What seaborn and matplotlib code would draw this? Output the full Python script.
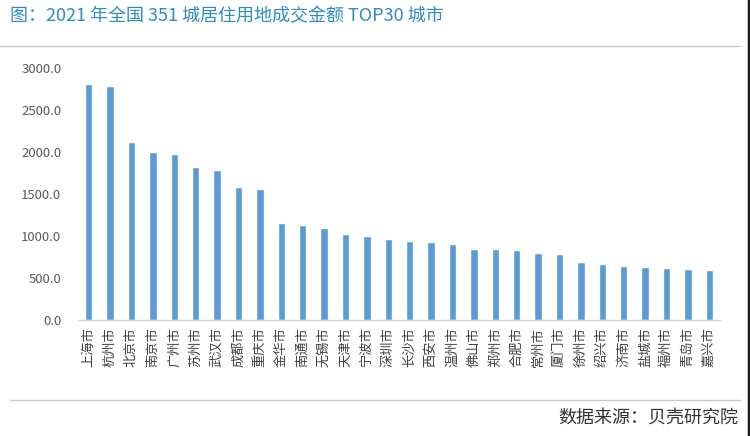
import matplotlib
matplotlib.use("Agg")
import matplotlib.pyplot as plt
import seaborn as sns
from matplotlib.ticker import FuncFormatter
from matplotlib.lines import Line2D

cities = ["上海市", "杭州市", "北京市", "南京市", "广州市", "苏州市", "武汉市", "成都市",
          "重庆市", "金华市", "南通市", "无锡市", "天津市", "宁波市", "深圳市", "长沙市",
          "西安市", "温州市", "佛山市", "郑州市", "合肥市", "常州市", "厦门市", "徐州市",
          "绍兴市", "济南市", "盐城市", "福州市", "青岛市", "嘉兴市"]
amounts = [2815, 2792, 2125, 2006, 1979, 1831, 1788, 1586, 1565, 1164,
           1140, 1101, 1030, 1010, 974, 946, 934, 910, 855, 855,
           836, 800, 792, 693, 673, 649, 637, 625, 617, 605]
yticks = [0, 500, 1000, 1500, 2000, 2500, 3000]

title = "图：2021 年全国 351 城居住用地成交金额 TOP30 城市"
source = "数据来源：贝壳研究院"

sns.set_style("white")
plt.rcParams['font.family'] = ['Noto Sans CJK SC', 'DejaVu Sans']

fig = plt.figure(figsize=(7.5, 4.36), dpi=100)
ax = fig.add_axes([0.104, 0.265, 0.856, 0.578])

sns.barplot(x=cities, y=amounts, color="#5B9BD5", saturation=1, width=0.34, ax=ax)

ax.set_ylim(0, 3000)
ax.set_xlim(-0.5, len(cities) - 0.5)
ax.set_yticks(yticks)
ax.yaxis.set_major_formatter(FuncFormatter(lambda v, p: f"{v:.1f}"))
ax.tick_params(axis='y', length=0, pad=12, labelsize=9.5, labelcolor="#595959")
ax.tick_params(axis='x', length=0, pad=5, labelsize=9.5, labelcolor="#404040")
for lab in ax.get_xticklabels():
    lab.set_rotation(90)

sns.despine(ax=ax, left=True)
ax.spines['bottom'].set_color("#d9d9d9")
ax.spines['bottom'].set_linewidth(1)
ax.set_xlabel("")
ax.set_ylabel("")

fig.text(0.013, 0.963, title, color="#2b8cbf", fontsize=13, va="center", ha="left")
fig.add_artist(Line2D([0.0, 0.987], [0.894, 0.894], transform=fig.transFigure,
                      color="#c8c8c8", lw=1))
fig.add_artist(Line2D([0.013, 0.987], [0.083, 0.083], transform=fig.transFigure,
                      color="#c8c8c8", lw=1))
fig.text(0.984, 0.042, source, color="#333333", fontsize=13, va="center", ha="right")
fig.add_artist(Line2D([0.998, 0.998], [0, 1], transform=fig.transFigure,
                      color="#1a1a1a", lw=2.5))

fig.savefig("out.png", dpi=100)
